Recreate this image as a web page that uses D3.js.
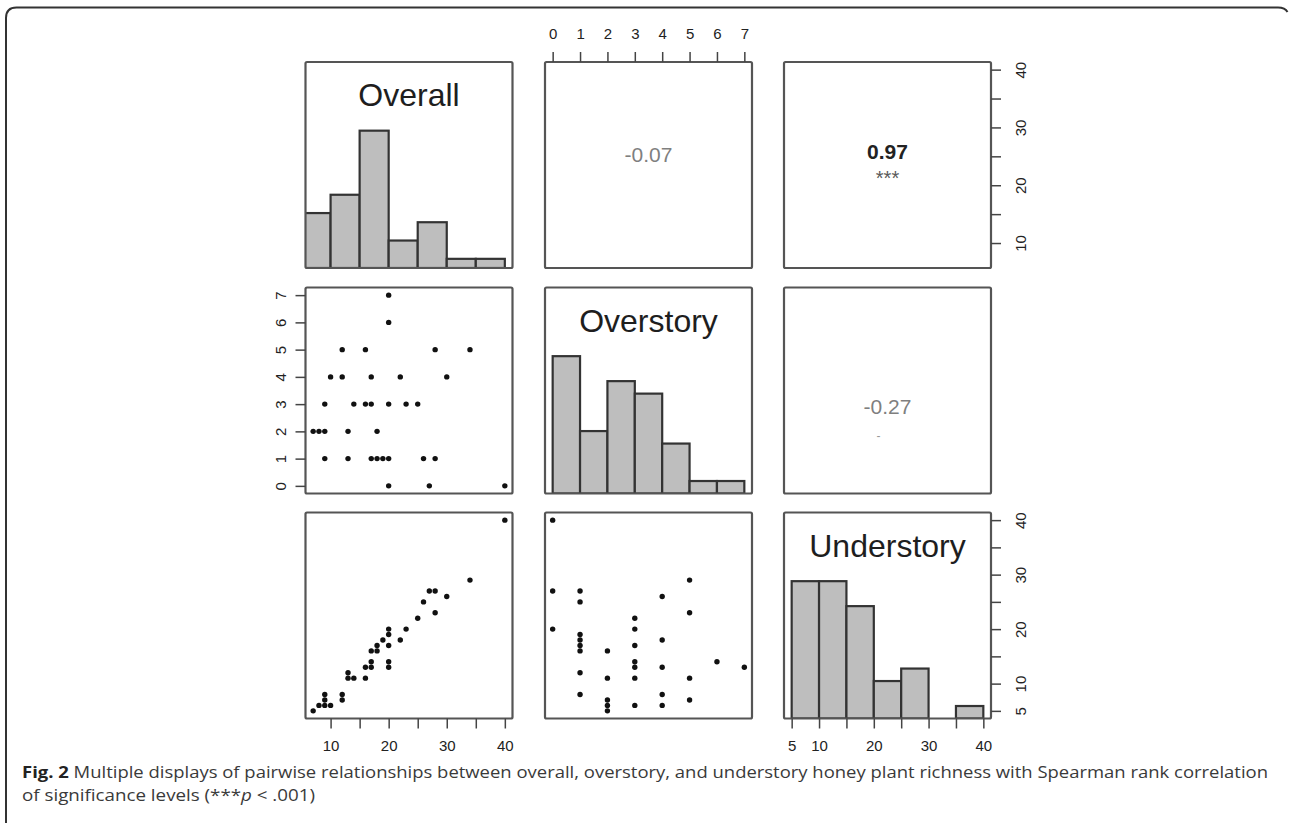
<!DOCTYPE html>
<html>
<head>
<meta charset="utf-8">
<script src="https://cdn.jsdelivr.net/npm/d3@7"></script>
<style>
  html, body { margin: 0; padding: 0; background: #fff; }
  svg { display: block; }
</style>
</head>
<body>
<svg id="chart" width="1289" height="827"></svg>
<script>
// ---- data ----
const varNames = ["Overall", "Overstory", "Understory"];
const overall    = [20,20,12,16,28,34,10,12,17,22,30, 9,14,16,17,20,23,25, 7, 8, 9,13,18, 9,13,17,18,19,20,26,28,20,27,40];
const overstory  = [ 7, 6, 5, 5, 5, 5, 4, 4, 4, 4, 4, 3, 3, 3, 3, 3, 3, 3, 2, 2, 2, 2, 2, 1, 1, 1, 1, 1, 1, 1, 1, 0, 0, 0];
const understory = [13,14, 7,11,23,29, 6, 8,13,18,26, 6,11,13,14,17,20,22, 5, 6, 7,11,16, 8,12,16,17,18,19,25,27,20,27,40];

// histogram counts (R hist, right-closed bins)
const overallBreaks    = [5,10,15,20,25,30,35,40];
const overallCounts    = [6,8,15,3,5,1,1];
const overstoryBreaks  = [0,1,2,3,4,5,6,7];
const overstoryCounts  = [11,5,9,8,4,1,1];
const understoryBreaks = [5,10,15,20,25,30,35,40];
const understoryCounts = [11,11,9,3,4,0,1];

// correlations (Spearman) and significance marks
const corrPairs  = [[0,1],[0,2],[1,2]];
const corrValues = ["-0.07", "0.97", "-0.27"];
const corrStars  = ["", "***", "-"];

// axis ticks
const overallTicks     = [10,15,20,25,30,35,40];
const overallLabels    = ["10","","20","","30","","40"];
const overstoryTicks   = [0,1,2,3,4,5,6,7];
const overstoryLabels  = ["0","1","2","3","4","5","6","7"];
const understoryTicks  = [5,10,15,20,25,30,35,40];
const understoryLabels = ["5","10","","20","","30","","40"];

const captionLine1 = " Multiple displays of pairwise relationships between overall, overstory, and understory honey plant richness with Spearman rank correlation";

// ---- layout ----
const svg = d3.select("#chart");
const cols = [305.5, 545, 784], rows = [62, 287.5, 512.5], W = 207, H = 206;
const vars = [overall, overstory, understory];
const breaks = [overallBreaks, overstoryBreaks, understoryBreaks];
const counts = [overallCounts, overstoryCounts, understoryCounts];
const ticks = [overallTicks, overstoryTicks, understoryTicks];
const tickLabels = [overallLabels, overstoryLabels, understoryLabels];

const domains = vars.map(v => {
  const e = d3.extent(v), d = e[1] - e[0];
  return [e[0] - 0.04 * d, e[1] + 0.04 * d];
});
const xS = domains.map((dm, i) => d3.scaleLinear().domain(dm).range([cols[i], cols[i] + W]));
const yS = domains.map((dm, j) => d3.scaleLinear().domain(dm).range([rows[j] + H, rows[j]]));

svg.append("rect").attr("width", 1289).attr("height", 827).attr("fill", "#fff");

// outer frame
svg.append("path")
  .attr("d", "M6,823 L6,18 Q6,7.5 16.5,7.5 L1278,7.5 Q1285,7.5 1287.5,12")
  .attr("fill", "none").attr("stroke", "#333").attr("stroke-width", 2);

const defs = svg.append("defs");
for (let r = 0; r < 3; r++) for (let c = 0; c < 3; c++) {
  defs.append("clipPath").attr("id", `clip${r}${c}`)
    .append("rect").attr("x", cols[c]).attr("y", rows[r]).attr("width", W).attr("height", H);
}

const FONT = "'Liberation Sans', Arial, Helvetica, sans-serif";

for (let r = 0; r < 3; r++) {
  for (let c = 0; c < 3; c++) {
    const g = svg.append("g").attr("clip-path", `url(#clip${r}${c})`);
    if (r === c) {
      // histogram
      const maxC = d3.max(counts[r]);
      const hy = d3.scaleLinear().domain([0, 1.5 * maxC]).range([rows[r] + H, rows[r]]);
      const bins = counts[r].map((n, k) => ({x0: breaks[r][k], x1: breaks[r][k + 1], n}));
      g.selectAll("rect.bar").data(bins.filter(b => b.n > 0)).join("rect")
        .attr("class", "bar")
        .attr("x", b => xS[c](b.x0))
        .attr("width", b => xS[c](b.x1) - xS[c](b.x0))
        .attr("y", b => hy(b.n))
        .attr("height", b => hy(0) - hy(b.n))
        .attr("fill", "#bebebe").attr("stroke", "#333").attr("stroke-width", 2.2);
      svg.append("text")
        .attr("x", cols[c] + W / 2).attr("y", rows[r] + 44)
        .attr("text-anchor", "middle")
        .attr("font-family", FONT).attr("font-size", 32).attr("fill", "#1e1e1e")
        .text(varNames[r]);
    } else if (r > c) {
      // scatter: x = var c, y = var r
      g.selectAll("circle").data(vars[c].map((v, k) => [v, vars[r][k]])).join("circle")
        .attr("cx", d => xS[c](d[0])).attr("cy", d => yS[r](d[1]))
        .attr("r", 2.7).attr("fill", "#111");
    } else {
      const k = corrPairs.findIndex(p => p[0] === r && p[1] === c);
      const cx = cols[c] + W / 2;
      const bold = corrStars[k] === "***";
      const baseY = k === 0 ? rows[r] + 100 : (k === 1 ? rows[r] + 97 : rows[r] + 126);
      svg.append("text")
        .attr("x", cx).attr("y", baseY).attr("text-anchor", "middle")
        .attr("font-family", FONT).attr("font-size", 21)
        .attr("font-weight", bold ? "bold" : "normal")
        .attr("fill", bold ? "#222" : "#7f7f7f")
        .text(corrValues[k]);
      if (corrStars[k]) {
        svg.append("text")
          .attr("x", bold ? cx : cx - 9).attr("y", bold ? baseY + 26 : baseY + 26)
          .attr("text-anchor", "middle")
          .attr("font-family", FONT).attr("font-size", bold ? 20 : 12)
          .attr("fill", bold ? "#5a5a5a" : "#999")
          .text(corrStars[k]);
      }
    }
    // panel box
    svg.append("rect")
      .attr("x", cols[c]).attr("y", rows[r]).attr("width", W).attr("height", H)
      .attr("fill", "none").attr("stroke", "#555").attr("stroke-width", 2.2)
      .attr("rx", 1.5);
  }
}

// ---- axes ----
function styleAxis(sel) {
  sel.select(".domain").remove();
  sel.selectAll(".tick line").attr("stroke", "#444").attr("stroke-width", 1.5);
  sel.selectAll(".tick text").attr("fill", "#222").attr("font-family", FONT).attr("font-size", 15);
}
function fmt(i) { return (d, k) => tickLabels[i][k]; }

// top axis: Overstory (col 1)
svg.append("g").attr("transform", `translate(0,${rows[0]})`)
  .call(d3.axisTop(xS[1]).tickValues(ticks[1]).tickFormat(fmt(1)).tickSize(10).tickPadding(13))
  .call(styleAxis);

// bottom axes: Overall (col 0), Understory (col 2)
[0, 2].forEach(i => {
  svg.append("g").attr("transform", `translate(0,${rows[2] + H})`)
    .call(d3.axisBottom(xS[i]).tickValues(ticks[i]).tickFormat(fmt(i)).tickSize(10).tickPadding(12))
    .call(styleAxis);
});

// left axis: Overstory (row 1), rotated labels
const la = svg.append("g").attr("transform", `translate(${cols[0]},0)`)
  .call(d3.axisLeft(yS[1]).tickValues(ticks[1]).tickFormat(fmt(1)).tickSize(10))
  .call(styleAxis);
la.selectAll(".tick text")
  .attr("x", null).attr("dy", null)
  .attr("text-anchor", "middle")
  .attr("transform", "translate(-20,0) rotate(-90)");

// right axes: Overall (row 0), Understory (row 2)
[0, 2].forEach(i => {
  const ra = svg.append("g").attr("transform", `translate(${cols[2] + W},0)`)
    .call(d3.axisRight(yS[i]).tickValues(ticks[i]).tickFormat(fmt(i)).tickSize(10))
    .call(styleAxis);
  ra.selectAll(".tick text")
    .attr("x", null).attr("dy", null)
    .attr("text-anchor", "middle")
    .attr("transform", "translate(35,0) rotate(-90)");
});

// ---- caption ----
const CAP = "'Open Sans', 'Noto Sans', sans-serif";
const t1 = svg.append("text").attr("x", 22).attr("y", 778)
  .attr("font-family", CAP).attr("font-size", 16.5).attr("fill", "#3a3a3a")
  .attr("textLength", 1246).attr("lengthAdjust", "spacingAndGlyphs");
t1.append("tspan").attr("font-weight", "bold").attr("fill", "#222").text("Fig. 2");
t1.append("tspan").text(captionLine1);

const t2 = svg.append("text").attr("x", 22).attr("y", 801)
  .attr("font-family", CAP).attr("font-size", 16.5).attr("fill", "#3a3a3a")
  .attr("textLength", 293).attr("lengthAdjust", "spacingAndGlyphs");
t2.append("tspan").text("of significance levels (***");
t2.append("tspan").attr("font-style", "italic").text("p");
t2.append("tspan").text(" < .001)");
</script>
</body>
</html>
